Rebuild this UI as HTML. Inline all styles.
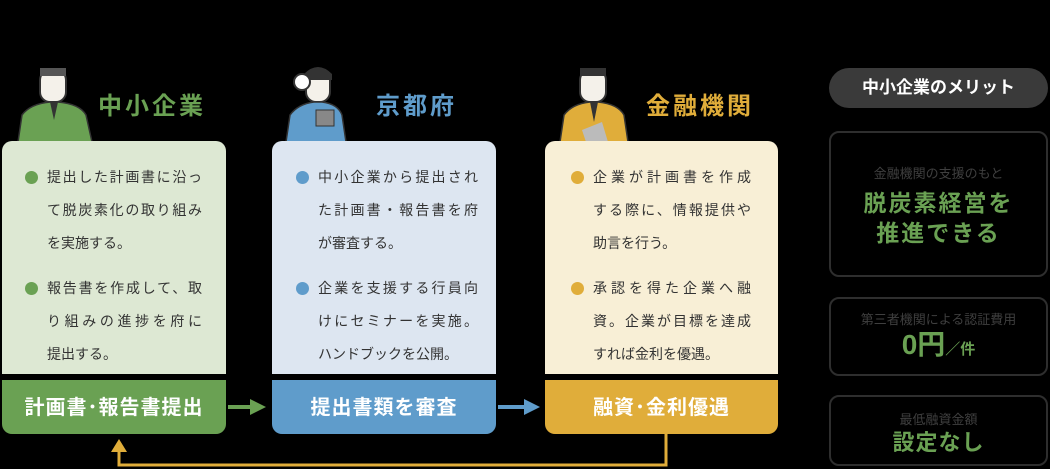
<!DOCTYPE html>
<html><head><meta charset="utf-8"><style>
*{margin:0;padding:0;box-sizing:border-box}
body{width:1050px;height:469px;background:#000;position:relative;overflow:hidden;font-family:"Liberation Sans","Noto Sans CJK JP",sans-serif}
.abs{position:absolute}
.card{position:absolute;top:141px;height:233px;border-radius:10px 10px 0 0;padding:20px 0 0 0}
.foot{position:absolute;top:380px;height:54px;border-radius:0 0 10px 10px;color:#fff;font-weight:bold;font-size:20px;text-align:center;line-height:56px;letter-spacing:1px}
.bl{position:relative;font-size:14px;line-height:33px;color:#333}
.bl span{display:block;white-space:nowrap}
.bl span.j{text-align:justify;text-align-last:justify}
.bl::before{content:"";position:absolute;left:-22px;top:10px;width:13px;height:13px;border-radius:50%;background:var(--c)}
.title{position:absolute;font-size:24px;font-weight:bold;letter-spacing:3px}
.mbox{position:absolute;left:829px;width:219px;border:2px solid #2e2e2e;border-radius:10px;text-align:center}
.sm{color:#3f3f3f;font-size:13px}
.big{color:#6aa153;font-weight:bold}
</style></head><body>

<svg class="abs" style="left:0;top:60px" width="800" height="85">
<g>
<rect x="40" y="10" width="26" height="32" rx="10" fill="#f4f1ea" stroke="#333" stroke-width="2"/>
<rect x="40" y="8" width="26" height="8" fill="#555"/>
<path d="M18 82 L22 55 Q30 44 50 42 L58 42 Q80 44 86 55 L92 82 Z" fill="#6aa153" stroke="#333" stroke-width="1.5"/>
<path d="M50 42 L54 60 L58 42" fill="#333"/>
</g>
<g transform="translate(268,0)">
<rect x="38" y="10" width="24" height="32" rx="10" fill="#f4f1ea" stroke="#333" stroke-width="2"/>
<path d="M36 14 Q50 0 64 14 L64 20 L36 20Z" fill="#333"/>
<circle cx="34" cy="22" r="8" fill="#fff" stroke="#333" stroke-width="2"/>
<path d="M18 82 L22 55 Q30 44 46 42 L54 42 Q70 44 74 55 L78 82 Z" fill="#5f9ccb" stroke="#333" stroke-width="1.5"/>
<rect x="48" y="50" width="18" height="16" fill="#888" stroke="#333"/>
</g>
<g transform="translate(542,0)">
<rect x="38" y="10" width="26" height="32" rx="10" fill="#f4f1ea" stroke="#333" stroke-width="2"/>
<rect x="38" y="8" width="26" height="8" fill="#333"/>
<path d="M18 82 L22 55 Q30 44 48 42 L56 42 Q76 44 82 55 L86 82 Z" fill="#e0ad3a" stroke="#333" stroke-width="1.5"/>
<path d="M48 42 L52 62 L56 42" fill="#333"/>
<path d="M40 70 L60 62 L66 82 L44 82Z" fill="#bbb"/>
</g>
</svg>

<div class="title" style="left:98px;top:86px;color:#6aa153">中小企業</div>
<div class="title" style="left:376px;top:86px;color:#5f9ccb">京都府</div>
<div class="title" style="left:646px;top:86px;color:#e0ad3a">金融機関</div>

<div class="card" style="left:2px;width:224px;background:#dde8d3;--c:#6aa153;padding-left:45px">
<div class="bl" style="width:155px"><span class="j">提出した計画書に沿っ</span><span class="j">て脱炭素化の取り組み</span><span>を実施する。</span></div>
<div class="bl" style="width:155px;margin-top:12px"><span class="j">報告書を作成して、取</span><span class="j">り組みの進捗を府に</span><span>提出する。</span></div>
</div>
<div class="card" style="left:272px;width:224px;background:#dde6f1;--c:#5f9ccb;padding-left:46px">
<div class="bl" style="width:160px"><span class="j">中小企業から提出され</span><span class="j">た計画書・報告書を府</span><span>が審査する。</span></div>
<div class="bl" style="width:160px;margin-top:12px"><span class="j">企業を支援する行員向</span><span class="j">けにセミナーを実施。</span><span>ハンドブックを公開。</span></div>
</div>
<div class="card" style="left:545px;width:233px;background:#f8efd6;--c:#e0ad3a;padding-left:48px">
<div class="bl" style="width:158px"><span class="j">企業が計画書を作成</span><span class="j">する際に、情報提供や</span><span>助言を行う。</span></div>
<div class="bl" style="width:158px;margin-top:12px"><span class="j">承認を得た企業へ融</span><span class="j">資。企業が目標を達成</span><span>すれば金利を優遇。</span></div>
</div>

<div class="foot" style="left:2px;width:224px;background:#6aa153">計画書･報告書提出</div>
<div class="foot" style="left:272px;width:224px;background:#5f9ccb">提出書類を審査</div>
<div class="foot" style="left:545px;width:233px;background:#e0ad3a">融資･金利優遇</div>

<svg class="abs" style="left:0;top:0" width="1050" height="469">
<line x1="228" y1="407" x2="252" y2="407" stroke="#6aa153" stroke-width="4"/>
<polygon points="250,399 266,407 250,415" fill="#6aa153"/>
<line x1="498" y1="407" x2="526" y2="407" stroke="#5f9ccb" stroke-width="4"/>
<polygon points="524,399 540,407 524,415" fill="#5f9ccb"/>
<polyline points="666,434 666,465 119,465 119,450" fill="none" stroke="#e0ad3a" stroke-width="3"/>
<polygon points="111,452 119,439 127,452" fill="#e0ad3a"/>
</svg>

<div class="abs" style="left:829px;top:68px;width:219px;height:40px;border-radius:20px;background:#3a3a3a;color:#fff;font-weight:bold;font-size:17px;text-align:center;line-height:40px">中小企業のメリット</div>
<div class="mbox" style="top:131px;height:146px;padding-top:30px">
<div class="sm">金融機関の支援のもと</div>
<div class="big" style="font-size:23px;line-height:30px;margin-top:6px;letter-spacing:2px">脱炭素経営を<br>推進できる</div>
</div>
<div class="mbox" style="top:297px;height:79px;padding-top:10px">
<div class="sm">第三者機関による認証費用</div>
<div class="big" style="font-size:28px;line-height:34px">0円<span style="font-size:15px">／件</span></div>
</div>
<div class="mbox" style="top:395px;height:71px;padding-top:12px">
<div class="sm">最低融資金額</div>
<div class="big" style="font-size:22px;line-height:30px;letter-spacing:1px">設定なし</div>
</div>
</body></html>
